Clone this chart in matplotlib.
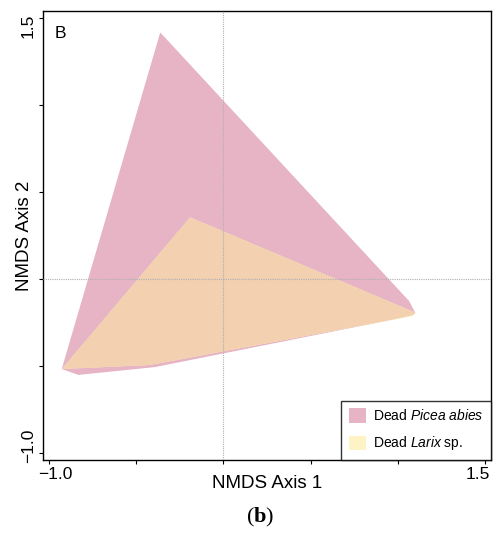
import matplotlib
matplotlib.use("Agg")
import matplotlib.pyplot as plt
from matplotlib.patches import Polygon, Patch
from matplotlib.transforms import ScaledTranslation

plt.rcParams['font.family'] = ['Liberation Sans', 'DejaVu Sans']
plt.rcParams['mathtext.fontset'] = 'custom'
plt.rcParams['mathtext.bf'] = 'Liberation Serif:bold'
plt.rcParams['mathtext.it'] = 'Liberation Sans:italic'
plt.rcParams['mathtext.rm'] = 'Liberation Sans'

# hull vertices (NMDS axis 1, axis 2)
picea_x = [-0.361, 1.064, 1.100, 1.084, 1.012, -0.391, -0.830, -0.925]
picea_y = [1.415, -0.126, -0.195, -0.207, -0.224, -0.505, -0.550, -0.516]
larix_x = [-0.190, 1.101, 1.086, -0.420, -0.924]
larix_y = [0.354, -0.193, -0.212, -0.493, -0.516]

ticks = [-1.0, -0.5, 0.0, 0.5, 1.0, 1.5]
tick_labels = ['\u22121.0', '', '', '', '', '1.5']

pink = '#e6b4c5'
overlap = '#f2d0b0'
yellow = '#fdf3c4'

fig = plt.figure(figsize=(4.93, 5.33), dpi=100)
ax = fig.add_axes([0.0866, 0.137, 0.9087, 0.842])

p_pic = Polygon(list(zip(picea_x, picea_y)), closed=True, fc=pink, ec='none', zorder=1)
ax.add_patch(p_pic)
p_lar = Polygon(list(zip(larix_x, larix_y)), closed=True, fc=yellow, ec='none', zorder=2)
ax.add_patch(p_lar)
p_ov = Polygon(list(zip(larix_x, larix_y)), closed=True, fc=overlap, ec='none', zorder=3)
ax.add_patch(p_ov)
p_ov.set_clip_path(p_pic)

ax.axvline(0, color='#b0b0b0', lw=0.8, ls=(0, (1, 1)), zorder=4)
ax.axhline(0, color='#b0b0b0', lw=0.8, ls=(0, (1, 1)), zorder=4)

ax.set_xlim(-1.034, 1.531)
ax.set_ylim(-1.038, 1.537)
ax.set_xticks(ticks)
ax.set_xticklabels(tick_labels)
ax.set_yticks(ticks)
ax.set_yticklabels(tick_labels, rotation=90, va='center')
ax.tick_params(direction='out', length=3, width=0.8, labelsize=12.5, pad=2)
for s in ax.spines.values():
    s.set_linewidth(1.0)

# end labels sit a little inward of their ticks
xl = ax.get_xticklabels()
xl[0].set_transform(xl[0].get_transform() + ScaledTranslation(0.07, 0, fig.dpi_scale_trans))
xl[-1].set_transform(xl[-1].get_transform() + ScaledTranslation(-0.07, 0, fig.dpi_scale_trans))
yl = ax.get_yticklabels()
yl[0].set_transform(yl[0].get_transform() + ScaledTranslation(0, 0.08, fig.dpi_scale_trans))
yl[-1].set_transform(yl[-1].get_transform() + ScaledTranslation(0, -0.08, fig.dpi_scale_trans))

ax.set_xlabel('NMDS Axis 1', fontsize=13.5)
ax.xaxis.set_label_coords(0.5, -0.034)
ax.set_ylabel('NMDS Axis 2', fontsize=13.5)
ax.yaxis.set_label_coords(-0.022, 0.5)
ax.text(0.027, 0.968, 'B', transform=ax.transAxes, fontsize=12.5, va='top', ha='left')

handles = [Patch(fc=pink, ec='none', label='Dead $\\it{Picea\\ abies}$'),
           Patch(fc=yellow, ec='none', label='Dead $\\it{Larix}$ sp.')]
leg = ax.legend(handles=handles, loc='lower right', fontsize=10, frameon=True,
                fancybox=False, edgecolor='black', borderaxespad=0,
                handlelength=1.2, handleheight=1.2, labelspacing=0.8,
                borderpad=0.55, handletextpad=0.5)
leg.get_frame().set_linewidth(1.0)

fig.text(0.527, 0.008, '($\\mathbf{b}$)', family='Liberation Serif', fontsize=16,
         ha='center', va='bottom')

fig.savefig('out.png', dpi=100)
